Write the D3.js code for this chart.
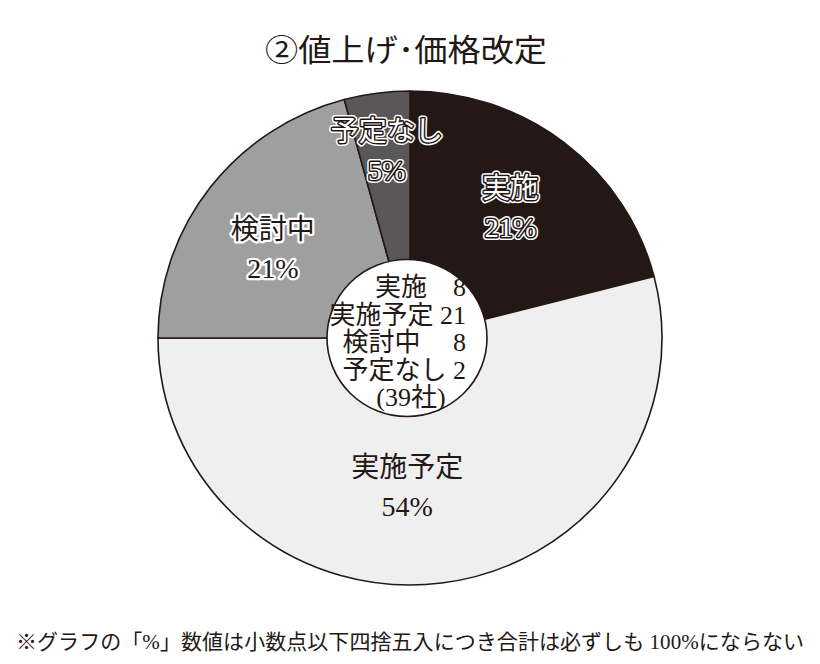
<!DOCTYPE html>
<html><head><meta charset="utf-8">
<script src="https://cdn.jsdelivr.net/npm/d3@7"></script>
<style>body{margin:0;background:#fff}text{white-space:pre}</style>
</head><body>
<svg id="c" width="820" height="664"></svg>
<script>
const categories = ["実施", "実施予定", "検討中", "予定なし"];
const counts = [8, 21, 8, 2];
const percents = ["21%", "54%", "21%", "5%"];
// slice sizes (%) as drawn in the reference picture
const sliceShare = [21, 54, 20.8, 4.2];
const colors = ["#231815", "#efefef", "#9f9f9f", "#595757"];
const totalLabel = "(39社)";
const titleText = "②値上げ･価格改定";
const noteText = "※グラフの「%」数値は小数点以下四捨五入につき合計は必ずしも 100%にならない";

const ink = "#231815";
const serifJP = "'Liberation Serif','Noto Sans CJK JP',serif";
const sansJP = "'Noto Sans CJK JP','Noto Sans',sans-serif";
const svg = d3.select("#c");

const cx = 410, cy = 338, R = 252, ry = 247 / 252, rIn = 80;

// title
svg.append("text").attr("x", 265).attr("y", 61)
  .attr("textLength", 282).attr("lengthAdjust", "spacingAndGlyphs")
  .style("font-family", sansJP).style("font-size", "31px").attr("fill", ink)
  .text(titleText);

// pie
const pie = d3.pie().sort(null).value(d => d)(sliceShare);
const arc = d3.arc().innerRadius(0).outerRadius(R);
const g = svg.append("g").attr("transform", `translate(${cx},${cy}) scale(1,${ry})`);
g.selectAll("path").data(pie).join("path")
  .attr("d", arc).attr("fill", (d, i) => colors[i])
  .attr("stroke", ink).attr("stroke-width", 1.6).attr("stroke-linejoin", "round");
g.append("circle").attr("cx", -3).attr("r", rIn).attr("fill", "#fff").attr("stroke", ink).attr("stroke-width", 1.6);

// slice labels
const labR = [165, 149, 164, 189];
const labOff = [-0.35, 8.25, -4.2, 0.5].map(v => v * Math.PI / 180);
pie.forEach((d, i) => {
  const a = (d.startAngle + d.endAngle) / 2 + labOff[i];
  const x = cx + labR[i] * Math.sin(a);
  const y = cy - labR[i] * Math.cos(a);
  const lines = [categories[i], percents[i]];
  let layers;
  if (i === 0 || i === 3) layers = [{fill: "#fff", stroke: "#fff", sw: 6}, {fill: "#fff", stroke: ink, sw: 3}, {fill: "#fff", stroke: "none", sw: 0}];
  else if (i === 2) layers = [{fill: ink, stroke: "#fff", sw: 4.5}, {fill: ink, stroke: "none", sw: 0}];
  else layers = [{fill: ink, stroke: "none", sw: 0}];
  layers.forEach(L => {
    lines.forEach((t, k) => {
      svg.append("text").attr("x", x).attr("y", y + (k === 0 ? -19.5 : 19.5) + 10)
        .attr("text-anchor", "middle")
        .style("font-family", serifJP).style("font-size", "28px")
        .attr("fill", L.fill).attr("stroke", L.stroke).attr("stroke-width", L.sw)
        .attr("stroke-linejoin", "round")
        .text(t);
    });
  });
});

// center table
const spacers = ["\u3000", " ", "\u3000 ", " "];
const lineStep = 27.5, firstBase = 296, numRight = 466;
categories.forEach((c, i) => {
  svg.append("text").attr("x", numRight).attr("y", firstBase + i * lineStep)
    .attr("text-anchor", "end")
    .style("font-family", serifJP).style("font-size", "26px").attr("fill", ink)
    .text(c + spacers[i] + counts[i]);
});
svg.append("text").attr("x", 411).attr("y", firstBase + 4 * lineStep)
  .attr("text-anchor", "middle")
  .style("font-family", serifJP).style("font-size", "26px").attr("fill", ink)
  .text(totalLabel);

// footnote
svg.append("text").attr("x", 16).attr("y", 649)
  .attr("textLength", 788).attr("lengthAdjust", "spacing")
  .style("font-family", serifJP).style("font-size", "21px").attr("fill", ink)
  .text(noteText);
</script>
</body></html>
